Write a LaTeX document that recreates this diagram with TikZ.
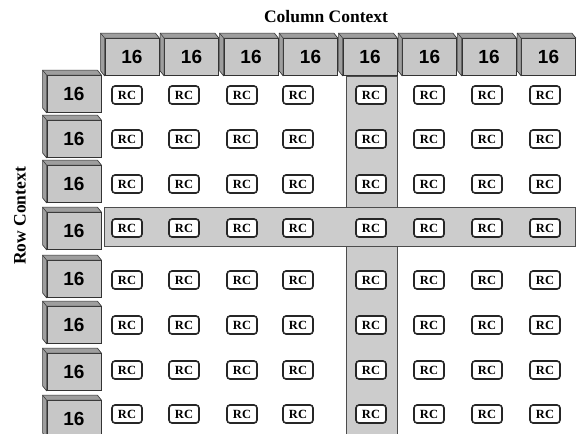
\documentclass[tikz,border=0pt]{standalone}
\usepackage{fontspec}
\setmainfont{Liberation Serif}
\newfontfamily\numfont{Liberation Sans}
\begin{document}
\begin{tikzpicture}[x=1pt,y=-1pt,
  face/.style={draw=black!80, fill=black!22, line width=0.8pt,
    minimum width=54pt, minimum height=37pt, inner sep=0pt,
    font=\numfont\bfseries\fontsize{19}{19}\selectfont},
  depth/.style={draw=black!80, fill=black!38, line width=0.6pt, line join=round},
  rcbox/.style={draw=black!85, line width=1.6pt, rounded corners=3pt, fill=white,
    minimum width=30pt, minimum height=18pt, inner sep=0pt,
    font=\bfseries\fontsize{12.5}{12.5}\selectfont},
  band/.style={draw=black!70, fill=black!20, line width=0.6pt},
  title/.style={font=\bfseries\fontsize{17.5}{17.5}\selectfont, inner sep=0pt}]
\useasboundingbox (0,0) rectangle (577,433);
\clip (0,0) rectangle (577,433);

% highlighted column and row
\draw[band] (346,76) rectangle (397,440);
\draw[band] (104,207) rectangle (575,246);

% titles
\node[title] (coltitle) at (326,17) {Column Context};
\node[title, rotate=90] (rowtitle) at (20,216) {Row Context};

% 3D context boxes: front face as node, depth as an L-shaped face behind it
\newcommand\ctxbox[3]{%
  \node[face] (#1) at (#2,#3) {16};
  \draw[depth] (#1.south west) -- ++(-4,-5) -- ([shift={(-4,-5)}]#1.north west)
    -- ([shift={(-4,-5)}]#1.north east) -- (#1.north east) -- (#1.north west) -- cycle;
  \draw[black!80, line width=0.5pt] (#1.north west) -- ++(-4,-5);
}

% column context boxes
\foreach \i in {1,...,8} {
  \pgfmathsetmacro\cx{132+59.5*(\i-1)}
  \ctxbox{col\i}{\cx}{57}
}

% row context boxes
\foreach \i/\cy in {1/94,2/139,3/184,4/231,5/279,6/325,7/372,8/419} {
  \ctxbox{row\i}{74}{\cy}
}

% reconfigurable cells
\foreach \r/\ry in {1/95,2/139,3/184,4/228,5/280,6/325,7/370,8/414} {
  \foreach \c/\cx in {1/127,2/184,3/242,4/298,5/371,6/429,7/487,8/545} {
    \node[rcbox] (rc-\r-\c) at (\cx,\ry) {RC};
  }
}
\end{tikzpicture}
\end{document}
